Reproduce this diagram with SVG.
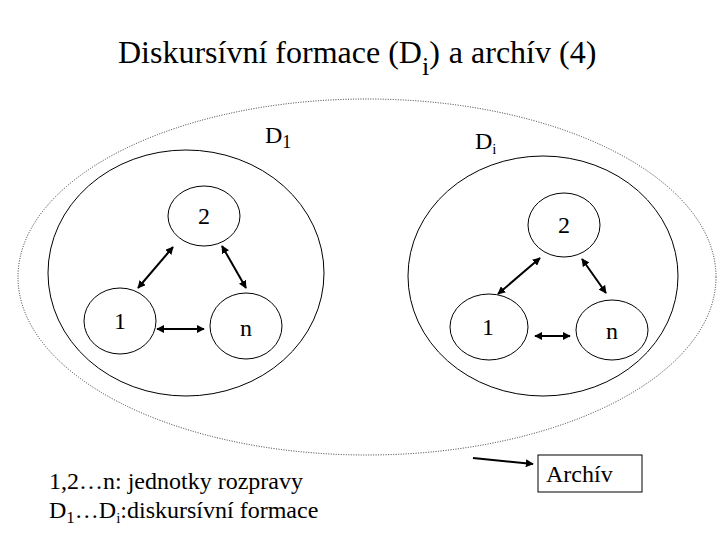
<svg xmlns="http://www.w3.org/2000/svg" width="720" height="540" viewBox="0 0 720 540">
<defs>
<marker id="ah" viewBox="0 0 10 10" refX="9" refY="5" markerWidth="4" markerHeight="4" orient="auto-start-reverse" markerUnits="strokeWidth">
<path d="M0,0 L10,5 L0,10 z" fill="#000"/>
</marker>
</defs>
<style>
text{font-family:'Liberation Serif','Times New Roman',serif;fill:#000}
.n{fill:#fff;stroke:#000;stroke-width:1}
.big{fill:none;stroke:#000;stroke-width:1}
.dot{fill:none;stroke:#333;stroke-width:1;stroke-dasharray:1 1.5}
.c{stroke:#000;stroke-width:2;fill:none;marker-start:url(#ah);marker-end:url(#ah)}
.lbl{font-size:24px;text-anchor:middle}
</style>
<rect width="720" height="540" fill="#fff"/>
<text x="118" y="63" font-size="32">Diskursívní formace (D<tspan font-size="26" dy="12">i</tspan><tspan dy="-12">)</tspan><tspan dx="9">a archív (4)</tspan></text>
<g id="archiv-outline"><ellipse class="dot" cx="367" cy="277" rx="349" ry="178"/></g>
<g id="D1"><ellipse class="big" cx="186" cy="273" rx="138" ry="123"/>
<text x="265" y="143" font-size="24">D<tspan font-size="18" dy="5">1</tspan></text></g>
<g id="Di"><ellipse class="big" cx="543" cy="276" rx="135" ry="120"/>
<text x="475" y="149" font-size="24">D<tspan font-size="15" dy="5">i</tspan></text></g>
<g id="L2"><ellipse class="n" cx="204" cy="216" rx="36" ry="30"/><text class="lbl" x="204" y="224">2</text></g>
<g id="L1"><ellipse class="n" cx="120" cy="321" rx="36" ry="33"/><text class="lbl" x="120" y="329">1</text></g>
<g id="Ln"><ellipse class="n" cx="246" cy="326" rx="36" ry="33"/><text class="lbl" x="246" y="336">n</text></g>
<g id="R2"><ellipse class="n" cx="564" cy="225" rx="36" ry="32"/><text class="lbl" x="564" y="233">2</text></g>
<g id="R1"><ellipse class="n" cx="489" cy="327" rx="39" ry="33"/><text class="lbl" x="488" y="335">1</text></g>
<g id="Rn"><ellipse class="n" cx="612" cy="330" rx="36" ry="30"/><text class="lbl" x="612" y="339">n</text></g>
<g id="connectors">
<line class="c" x1="173" y1="247" x2="138" y2="288"/>
<line class="c" x1="222" y1="246" x2="246" y2="288"/>
<line class="c" x1="157" y1="329" x2="204" y2="329"/>
<line class="c" x1="540" y1="258" x2="498" y2="294"/>
<line class="c" x1="582" y1="259" x2="606" y2="293"/>
<line class="c" x1="535" y1="336" x2="570" y2="336"/>
<line x1="473" y1="458" x2="533" y2="464" stroke="#000" stroke-width="2" marker-end="url(#ah)"/>
</g>
<g id="archiv"><rect x="538" y="455" width="104" height="37" fill="#fff" stroke="#000" stroke-width="1"/>
<text x="546" y="482" font-size="24">Archív</text></g>
<g id="legend">
<text x="49" y="489" font-size="24">1,2…n: jednotky rozpravy</text>
<text x="49" y="518" font-size="24">D<tspan font-size="17" dy="5">1</tspan><tspan dy="-5">…D</tspan><tspan font-size="15" dy="5">i</tspan><tspan dy="-5">:diskursívní formace</tspan></text>
</g>
</svg>
